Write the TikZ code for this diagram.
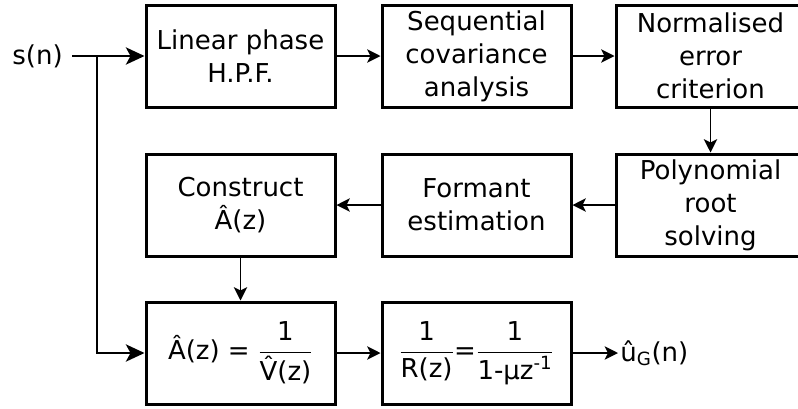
\documentclass[tikz,border=0pt]{standalone}
\usepackage{amsmath}
\usepackage{fontspec}
\setmainfont{DejaVu Sans}
\usetikzlibrary{arrows.meta}
\begin{document}
\begin{tikzpicture}[x=0.75pt,y=-0.75pt,
  every node/.style={font=\fontsize{19.5}{24.75}\selectfont},
  blockbox/.style={draw, line width=2.25pt, minimum width=141.75pt, minimum height=76.5pt, align=center, inner sep=0pt},
  conn/.style={line width=1.2pt},
  smallarr/.style={conn, -{Stealth[length=10pt,width=10pt,inset=2.5pt]}},
  bigarr/.style={conn, -{Stealth[length=14pt,width=13pt,inset=3.5pt]}},
  lbl/.style={inner sep=0pt}]
\useasboundingbox (0,0) rectangle (798,408);
\begin{scope}
\clip (0,0) rectangle (798,408);
% row 1
\node[blockbox] (hpf) at (240.5,56) {Linear phase\\H.P.F.};
\node[blockbox] (cov) at (476.5,56) {Sequential\\covariance\\analysis};
\node[blockbox] (err) at (710.5,56) {Normalised\\error\\criterion};
% row 2
\node[blockbox] (con) at (240.5,205) {Construct\\Â(z)};
\node[blockbox] (for) at (476.5,205) {Formant\\estimation};
\node[blockbox] (pol) at (710.5,205) {Polynomial\\root\\solving};
% row 3
\node[blockbox] (inv) at (240.5,353) {$\text{Â(z) = }\dfrac{\text{1}}{\text{V̂(z)}}$};
\node[blockbox] (rad) at (476.5,353) {$\dfrac{\text{1}}{\text{R(z)}}\text{=}\dfrac{\text{1}}{\text{1-µz\textsuperscript{-1}}}$};
\end{scope}
% labels
\node[lbl, anchor=east, inner xsep=6.75pt] (sn) at (72,56) {s(n)};
\node[lbl, anchor=west, inner xsep=1.5pt] (ug) at (618,353) {û\textsubscript{G}(n)};
\coordinate (br) at (97,56);
% connectors
\draw[bigarr] (sn.east) -- (hpf.west);
\draw[bigarr] (br) |- (inv.west);
\draw[smallarr] (hpf.east) -- (cov.west);
\draw[smallarr] (cov.east) -- (err.west);
\draw[smallarr] (err.south) -- (pol.north);
\draw[smallarr] (pol.west) -- (for.east);
\draw[smallarr] (for.west) -- (con.east);
\draw[smallarr] (con.south) -- (inv.north);
\draw[smallarr] (inv.east) -- (rad.west);
\draw[smallarr] (rad.east) -- (ug.west);
\end{tikzpicture}
\end{document}
